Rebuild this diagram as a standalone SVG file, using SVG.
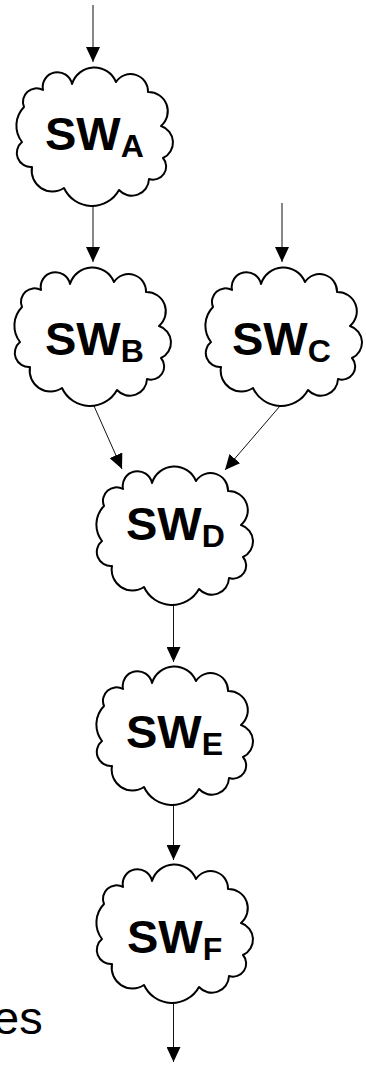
<svg xmlns="http://www.w3.org/2000/svg" width="366" height="1066" viewBox="0 0 366 1066">
<style>
.cloud{fill:#fff;stroke:#000;stroke-width:2;stroke-linejoin:round}
.lbl{font-family:"Liberation Sans",Arial,sans-serif;font-weight:bold;font-size:47px;fill:#000}
.sub{font-size:32px}
.conn line{stroke:#111;stroke-width:1;marker-end:url(#ah)}
.free{font-family:"Liberation Sans",Arial,sans-serif;font-size:47px;fill:#000}
</style>
<defs>
<marker id="ah" markerUnits="userSpaceOnUse" markerWidth="15" markerHeight="14" refX="15" refY="7" orient="auto">
<path d="M0,0 L15,7 L0,14 Z" fill="#000"/>
</marker>
<path id="cl" class="cloud" d="M-22,-50 A23.4,23.4 0 0 1 22,-52 A17.4,17.4 0 0 1 54,-42 A19.3,19.3 0 0 1 67,-8 A17.2,17.2 0 0 1 69,24 A13.1,13.1 0 0 1 55,45 A17.2,17.2 0 0 1 25,56 A30.8,30.8 0 0 1 -30,54 A20.8,20.8 0 0 1 -62,33 A14.1,14.1 0 0 1 -72,8 A26.7,26.7 0 0 1 -70,-27 A13.5,13.5 0 0 1 -51,-44 A14.4,14.4 0 1 1 -22,-50 Z"/>
</defs>
<rect width="366" height="1066" fill="#fff"/>
<g id="connectors" class="conn">
<line x1="93" y1="5" x2="93" y2="62"/>
<line x1="93" y1="206" x2="93" y2="262"/>
<line x1="282" y1="203" x2="282" y2="262"/>
<line x1="94" y1="406" x2="122" y2="469"/>
<line x1="280" y1="406" x2="225" y2="470"/>
<line x1="173.5" y1="604" x2="173.5" y2="662"/>
<line x1="173.5" y1="805" x2="173.5" y2="860"/>
<line x1="173.5" y1="1003" x2="173.5" y2="1062"/>
</g>
<g id="SWA"><use href="#cl" x="94" y="134"/><text class="lbl" x="45" y="150">SW<tspan class="sub" dy="7">A</tspan></text></g>
<g id="SWB"><use href="#cl" x="92" y="334"/><text class="lbl" x="45" y="355">SW<tspan class="sub" dy="7">B</tspan></text></g>
<g id="SWC"><use href="#cl" x="283" y="334"/><text class="lbl" x="232" y="355">SW<tspan class="sub" dy="7">C</tspan></text></g>
<g id="SWD"><use href="#cl" x="174" y="533"/><text class="lbl" x="126" y="540">SW<tspan class="sub" dy="7">D</tspan></text></g>
<g id="SWE"><use href="#cl" x="174" y="733"/><text class="lbl" x="126" y="748">SW<tspan class="sub" dy="7">E</tspan></text></g>
<g id="SWF"><use href="#cl" x="174" y="931"/><text class="lbl" x="127" y="953">SW<tspan class="sub" dy="7">F</tspan></text></g>
<text class="free" x="-7" y="1034">es</text>
</svg>
